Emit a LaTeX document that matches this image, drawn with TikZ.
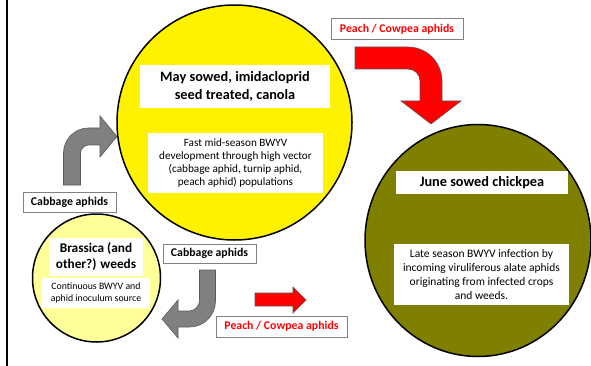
\documentclass[tikz,border=0pt]{standalone}
\usepackage{fontspec}
\setmainfont{Carlito}
\usetikzlibrary{shapes.geometric}

\definecolor{olivecrop}{HTML}{808000}
\definecolor{paleyellow}{HTML}{FFFF99}
\definecolor{arrowgray}{HTML}{808080}

\tikzset{
    cropcircle/.style={draw=black, line width=1.5pt, inner sep=0pt},
    titlebox/.style={fill=white, inner sep=0pt, align=center, font=\bfseries\fontsize{14.3}{18.5}\selectfont},
    infobox/.style={fill=white, inner sep=0pt, align=center, font=\fontsize{11.2}{13.3}\selectfont},
    aphidlabel/.style={draw=black!50, fill=white, line width=1pt, inner sep=0pt, minimum height=20pt, font=\bfseries\fontsize{11.8}{13}\selectfont},
    blockarrow/.style={draw=black!65, line width=0.6pt, line join=miter}
}

\begin{document}
\begin{tikzpicture}[x=1pt, y=-1pt]
    \useasboundingbox (0,0) rectangle (591,366);

    % Left margin rule
    \draw[line width=2pt] (7,0) -- (7,366);

    % Canola
    \node[cropcircle, circle, fill=yellow, minimum size=235pt] (canola) at (234.5,122.5) {};
    \node[titlebox, minimum width=190pt, minimum height=43pt] (canolatitle) at (235,86.5)
        {May sowed, imidacloprid\\seed treated, canola};
    \node[infobox, minimum width=175pt, minimum height=60pt] (canolainfo) at (235.5,163)
        {Fast mid-season BWYV\\development through high vector\\(cabbage aphid, turnip aphid,\\peach aphid) populations};

    % Chickpea
    \node[cropcircle, ellipse, fill=olivecrop, minimum width=226pt, minimum height=232pt] (chickpea) at (478,240.5) {};
    \node[titlebox, minimum width=172pt, minimum height=23pt] (chickpeatitle) at (482,182.5)
        {June sowed chickpea};
    \node[infobox, font=\fontsize{11.5}{14}\selectfont, minimum width=175pt, minimum height=61pt] (chickpeainfo) at (481.5,274.5)
        {Late season BWYV infection by\\incoming viruliferous alate aphids\\originating from infected crops\\and weeds.};

    % Weeds
    \node[cropcircle, circle, fill=paleyellow, minimum size=128pt] (weeds) at (96.5,278) {};
    \node[titlebox, font=\bfseries\fontsize{13.3}{16}\selectfont, minimum width=94pt, minimum height=38pt] (weedstitle) at (96,257)
        {Brassica (and\\other?) weeds};
    \node[infobox, font=\fontsize{9.8}{11.5}\selectfont, minimum width=108pt, minimum height=30pt] (weedsinfo) at (96,293)
        {Continuous BWYV and\\aphid inoculum source};

    % Aphid labels
    \node[aphidlabel, minimum width=93pt] (cabbageup) at (69.5,202) {Cabbage aphids};
    \node[aphidlabel, minimum width=93pt, minimum height=19pt] (cabbagedown) at (209.5,253.5) {Cabbage aphids};
    \node[aphidlabel, text=red, minimum width=132pt, minimum height=21pt] (peachtop) at (397,29.5) {Peach / Cowpea aphids};
    \node[aphidlabel, text=red, minimum width=131pt, minimum height=21pt] (peachbottom) at (281.5,326.5) {Peach / Cowpea aphids};

    % Weeds to canola
    \filldraw[blockarrow, fill=arrowgray] (63.5,185) -- (63.5,153) .. controls (63.5,139.2) and (74.7,128) .. (88.5,128)
        -- (100,128) -- (100,116) -- (117,136.5) -- (100,157) -- (100,145) -- (88.5,145)
        .. controls (84.1,145) and (80.5,149.4) .. (80.5,153) -- (80.5,185) -- cycle;

    % Canola to weeds
    \filldraw[blockarrow, fill=arrowgray] (215.5,270) -- (215.5,301) .. controls (215.5,315.4) and (203.9,327) .. (189.5,327)
        -- (178,327) -- (178,338) -- (162,319) -- (178,300) -- (178,311) -- (189.5,311)
        .. controls (195,311) and (199.5,305.5) .. (199.5,301) -- (199.5,270) -- cycle;

    % Canola to chickpea
    \filldraw[blockarrow, fill=red] (355,47) -- (408,47) .. controls (426.8,47) and (442,62.2) .. (442,81)
        -- (442,101) -- (461,101) -- (431,124) -- (401,101) -- (420,101) -- (420,81)
        .. controls (420,74.4) and (414.6,69) .. (408,69) -- (355,69) -- cycle;

    % Weeds to chickpea
    \filldraw[blockarrow, fill=red] (255,293) -- (293,293) -- (293,287) -- (306,300) -- (293,313) -- (293,306) -- (255,306) -- cycle;

\end{tikzpicture}
\end{document}
